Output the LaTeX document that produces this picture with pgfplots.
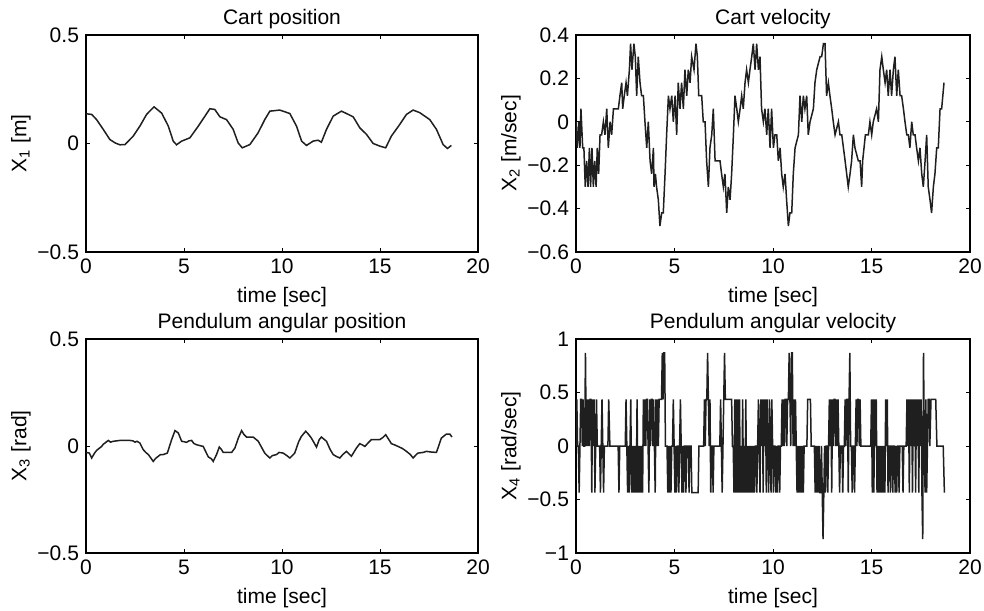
\documentclass[border=0pt]{standalone}
\usepackage{fontspec}
\setmainfont{Liberation Sans}
\usepackage{pgfplots}
\usepackage{pgfplotstable}
\pgfplotsset{compat=1.18}

\pgfplotstableread{
t v
0 0.137
0.29 0.134
0.54 0.11
0.88 0.065
1.22 0.018
1.50 0.002
1.73 -0.006
1.99 -0.005
2.41 0.034
2.75 0.08
3.09 0.134
3.47 0.169
3.86 0.14
4.20 0.08
4.45 0.011
4.62 -0.006
4.88 0.011
5.30 0.026
5.73 0.08
6.07 0.126
6.32 0.16
6.57 0.157
6.83 0.123
7.17 0.11
7.51 0.065
7.76 0.003
7.97 -0.02
8.36 -0.005
8.78 0.049
9.12 0.11
9.38 0.149
9.89 0.154
10.40 0.138
10.74 0.08
11.00 0.011
11.25 -0.009
11.59 0.011
11.84 0.015
12.01 0.006
12.27 0.065
12.61 0.126
13.03 0.149
13.29 0.138
13.63 0.123
13.97 0.072
14.31 0.042
14.65 0.0
14.99 -0.012
15.29 -0.02
15.58 0.034
16.01 0.088
16.35 0.134
16.69 0.154
17.03 0.142
17.54 0.11
17.88 0.065
18.22 -0.005
18.44 -0.023
18.64 -0.009
}\cartpos

\pgfplotstableread{
t v
0.00 0
0.07 -0.12
0.14 0
0.20 -0.12
0.25 0.06
0.34 -0.12
0.40 -0.12
0.47 -0.30
0.54 -0.18
0.61 -0.30
0.68 -0.12
0.74 -0.30
0.81 -0.12
0.88 -0.30
0.95 -0.18
1.02 -0.30
1.08 -0.12
1.15 -0.24
1.22 -0.06
1.30 -0.06
1.39 0
1.47 -0.06
1.56 0.06
1.64 -0.12
1.73 0
1.81 -0.06
1.90 0.06
2.15 0.06
2.23 0.12
2.32 0.18
2.37 0.06
2.45 0.12
2.54 0.18
2.61 0.12
2.71 0.24
2.77 0.36
2.84 0.24
2.94 0.36
3.01 0.30
3.08 0.12
3.16 0.30
3.25 0.18
3.33 0.12
3.42 0.12
3.50 0
3.59 -0.12
3.67 0
3.76 -0.18
3.84 -0.24
3.93 -0.12
3.96 -0.30
4.03 -0.24
4.09 -0.30
4.18 -0.36
4.26 -0.48
4.35 -0.42
4.43 -0.42
4.52 -0.24
4.60 -0.06
4.69 0.12
4.77 0.06
4.86 0.12
4.94 0
5.03 0.12
5.11 -0.06
5.19 0.18
5.28 0.06
5.36 0.18
5.45 0.06
5.53 0.24
5.62 0.12
5.70 0.24
5.79 0.18
5.87 0.30
5.99 0.24
6.09 0.36
6.16 0.30
6.23 0.12
6.38 0.12
6.46 0
6.55 0
6.63 -0.18
6.72 -0.30
6.80 -0.12
6.89 -0.06
6.97 0.06
7.06 -0.18
7.31 -0.18
7.39 -0.24
7.48 -0.30
7.56 -0.24
7.65 -0.42
7.73 -0.30
7.82 -0.36
7.90 -0.24
7.99 -0.06
8.07 0.12
8.16 0.06
8.24 0
8.33 0.06
8.41 0.12
8.49 0.06
8.58 0.18
8.66 0.24
8.75 0.18
8.83 0.24
8.92 0.30
9.00 0.36
9.09 0.24
9.17 0.36
9.26 0.24
9.34 0.30
9.42 0.06
9.51 0
9.59 0.06
9.68 -0.06
9.76 0.06
9.85 -0.12
9.93 0.06
10.02 -0.12
10.10 -0.06
10.19 -0.06
10.27 -0.18
10.36 -0.12
10.44 -0.24
10.52 -0.30
10.61 -0.24
10.69 -0.36
10.78 -0.48
10.86 -0.42
10.95 -0.42
11.03 -0.24
11.12 -0.12
11.29 -0.06
11.37 0.12
11.46 0
11.54 0.12
11.62 0.06
11.71 0.12
11.79 -0.06
11.88 0
12.05 0.06
12.13 0.18
12.22 0.24
12.39 0.30
12.47 0.30
12.56 0.36
12.64 0.36
12.72 0.12
12.81 0.18
12.89 0.12
12.98 0.06
13.06 0
13.15 -0.06
13.32 0
13.40 -0.06
13.49 -0.06
13.66 -0.18
13.74 -0.24
13.82 -0.30
13.91 -0.24
13.99 -0.18
14.08 -0.06
14.16 -0.12
14.33 -0.18
14.42 -0.18
14.50 -0.30
14.55 -0.18
14.69 -0.06
14.84 -0.06
14.92 0
15.01 -0.06
15.09 0
15.26 0.06
15.35 0
15.43 0.24
15.52 0.30
15.60 0.24
15.69 0.18
15.77 0.24
15.85 0.12
15.94 0.24
16.02 0.12
16.11 0.24
16.19 0.30
16.28 0.12
16.36 0.24
16.45 0.12
16.53 0.12
16.62 0.06
16.70 0
16.79 -0.06
16.87 -0.06
16.95 -0.12
17.04 0
17.12 -0.06
17.21 -0.06
17.29 -0.12
17.38 -0.18
17.46 -0.12
17.55 -0.24
17.63 -0.30
17.72 -0.18
17.80 -0.06
17.88 -0.30
17.97 -0.36
18.05 -0.42
18.14 -0.30
18.22 -0.24
18.31 -0.12
18.39 -0.12
18.48 0.06
18.56 0.06
18.68 0.18
}\cartvel

\pgfplotstableread{
t v
0.00 -0.030
0.17 -0.033
0.29 -0.056
0.46 -0.030
0.55 -0.020
0.63 -0.014
0.80 -0.002
0.88 0.008
0.97 0.014
1.05 0.020
1.14 0.026
1.25 0.018
1.39 0.022
1.73 0.026
2.24 0.026
2.40 0.024
2.50 0.018
2.60 0.022
2.75 0.014
2.92 -0.017
3.05 -0.030
3.18 -0.040
3.30 -0.055
3.43 -0.072
3.55 -0.058
3.69 -0.048
3.80 -0.040
3.94 -0.040
4.15 -0.033
4.37 0.030
4.54 0.072
4.71 0.061
4.88 0.022
5.00 0.020
5.13 0.017
5.25 0.024
5.39 0.026
5.50 0.012
5.64 0.006
5.98 -0.002
6.24 -0.051
6.40 -0.060
6.49 -0.072
6.66 -0.040
6.80 -0.005
6.90 -0.015
7.00 -0.030
7.43 -0.030
7.60 -0.009
7.77 0.037
7.94 0.072
8.05 0.055
8.19 0.042
8.53 0.042
8.79 0.022
8.95 -0.005
9.12 -0.033
9.25 -0.045
9.38 -0.056
9.50 -0.045
9.72 -0.040
9.85 -0.030
10.06 -0.033
10.25 -0.045
10.40 -0.056
10.65 -0.033
10.85 0.020
10.99 0.045
11.21 0.069
11.35 0.055
11.50 0.037
11.76 -0.005
11.90 0.030
12.01 0.042
12.27 0.022
12.45 -0.015
12.61 -0.040
12.80 -0.050
12.95 -0.056
13.10 -0.040
13.29 -0.025
13.54 -0.048
13.80 -0.009
13.97 0.011
14.10 0.005
14.23 -0.002
14.40 0.015
14.56 0.030
14.99 0.030
15.15 0.040
15.29 0.053
15.45 0.030
15.58 0.011
15.75 0.005
15.92 -0.002
16.15 -0.012
16.35 -0.025
16.55 -0.040
16.69 -0.056
16.85 -0.040
16.94 -0.033
17.20 -0.030
17.37 -0.025
17.60 -0.028
17.88 -0.030
18.13 0.037
18.39 0.056
18.56 0.056
18.67 0.042
}\pendpos

\pgfplotstableread{
t v
0.00 0
0.04 0.435
0.08 0
0.12 0
0.16 -0.435
0.20 0
0.24 0.435
0.28 0.435
0.32 0
0.36 0.435
0.40 0
0.44 0
0.48 0.87
0.52 0
0.56 0.435
0.60 0
0.64 0.435
0.68 0
0.72 0.435
0.76 0.435
0.80 -0.435
0.84 0.435
0.88 0
0.92 0.435
0.96 -0.435
1.00 0
1.04 0.435
1.08 0
1.20 0
1.24 -0.435
1.28 0
1.32 0.435
1.36 0
1.40 -0.435
1.44 0
1.62 0
1.66 0.435
1.72 0
2.14 0
2.18 -0.435
2.22 0
2.50 0
2.54 0.435
2.58 0
2.62 -0.435
2.66 0
2.70 -0.435
2.74 0
2.78 0.435
2.82 -0.435
2.86 0
2.90 -0.435
2.94 0
2.98 -0.435
3.02 0
3.06 -0.435
3.10 0.435
3.14 -0.435
3.18 0
3.22 -0.435
3.26 0
3.30 -0.435
3.34 0
3.38 -0.435
3.42 0.435
3.46 0
3.50 0.435
3.54 0
3.58 0.435
3.62 0.435
3.66 0
3.70 -0.435
3.74 0.435
3.78 0
3.82 0.435
3.86 0.435
3.90 0
3.94 0.435
3.98 0
4.02 -0.435
4.06 0.435
4.10 0
4.14 0.435
4.18 0
4.22 0.435
4.34 0.435
4.38 0.87
4.42 0.435
4.46 0.87
4.50 0.87
4.54 0
4.62 0
4.66 -0.435
4.70 0
4.74 -0.435
4.78 0
4.82 -0.435
4.86 0
4.90 0
4.94 0.435
4.98 0
5.02 -0.435
5.06 0
5.10 -0.435
5.14 0
5.18 0
5.22 -0.435
5.26 0
5.30 0.435
5.34 0
5.38 -0.435
5.42 0
5.46 -0.435
5.50 0
5.54 0
5.58 -0.435
5.62 0
5.70 0
5.74 -0.435
5.78 0
5.84 0
5.88 -0.435
6.20 -0.435
6.24 0
6.48 0
6.52 0.435
6.56 0
6.60 0.435
6.64 0.435
6.68 0.87
6.72 0.435
6.76 0
6.80 0.435
6.84 -0.435
6.88 0
6.92 0
6.96 -0.435
7.00 0
7.30 0
7.34 0.435
7.38 0
7.42 -0.435
7.46 0
7.50 0.435
7.54 0.87
7.58 0.435
7.90 0.435
7.94 0
7.98 0
8.02 -0.435
8.06 0.435
8.10 -0.435
8.14 0.435
8.18 -0.435
8.22 0.435
8.26 -0.435
8.30 0.435
8.34 -0.435
8.38 0
8.42 -0.435
8.46 0.435
8.50 -0.435
8.54 0
8.58 -0.435
8.62 0.435
8.66 -0.435
8.70 0
8.74 -0.435
8.78 0
8.82 -0.435
8.86 0
8.90 -0.435
8.94 0
8.98 -0.435
9.02 0
9.06 -0.435
9.10 0
9.14 0
9.18 -0.435
9.22 0
9.26 0.435
9.30 0
9.34 -0.435
9.38 0.435
9.42 0
9.46 0.435
9.50 -0.435
9.54 0.435
9.58 0
9.62 0.435
9.66 -0.435
9.70 0.435
9.74 0
9.78 -0.435
9.82 0.435
9.86 0
9.90 -0.435
9.94 0.435
9.98 0
10.02 -0.435
10.06 0
10.10 0
10.14 -0.435
10.18 0
10.22 -0.435
10.26 0
10.30 0
10.34 -0.435
10.38 0
10.42 0
10.46 0.435
10.50 0
10.54 0.435
10.58 0
10.62 0.435
10.66 0.435
10.70 0
10.74 0.435
10.78 0.435
10.82 0.87
10.86 0.435
10.90 0
10.94 0.87
10.98 0.87
11.02 0
11.06 0.435
11.10 0
11.14 0.435
11.18 0
11.22 -0.435
11.26 0
11.30 -0.435
11.34 0
11.38 -0.435
11.42 0
11.46 -0.435
11.50 0
11.54 -0.435
11.58 0
11.72 0
11.76 0.435
11.90 0.435
11.94 0
12.10 0
12.14 -0.435
12.18 0
12.22 -0.435
12.26 0
12.30 -0.435
12.34 0
12.38 -0.435
12.42 -0.435
12.46 0
12.50 -0.435
12.54 -0.87
12.58 -0.435
12.62 0
12.66 -0.435
12.70 0
12.74 0
12.78 -0.435
12.82 0
12.86 0.435
12.90 0
12.94 0.435
12.98 -0.435
13.02 0.435
13.06 0
13.10 0.435
13.14 0.435
13.18 0
13.22 0.435
13.26 0
13.30 0.435
13.34 0
13.38 -0.435
13.42 0
13.50 0
13.54 -0.435
13.58 0
13.62 0
13.66 0.435
13.70 0
13.74 0.435
13.78 0.435
13.82 -0.435
13.86 0.435
13.90 0.87
13.94 0
13.98 0
14.02 -0.435
14.06 0
14.10 0
14.14 -0.435
14.18 0
14.22 0.435
14.26 0
14.30 0.435
14.34 0.435
14.38 0
14.42 0.435
14.46 0
14.96 0
15.00 0.435
15.04 -0.435
15.08 0.435
15.12 -0.435
15.16 0.435
15.20 0
15.24 0.435
15.28 -0.435
15.32 0
15.36 -0.435
15.40 0
15.44 -0.435
15.48 0
15.52 -0.435
15.56 0
15.60 -0.435
15.64 0
15.68 -0.435
15.72 0.435
15.76 0
15.80 0.435
15.84 -0.435
15.88 0
15.92 0
15.96 -0.435
16.00 0
16.04 0
16.08 -0.435
16.12 0
16.16 0
16.20 -0.435
16.24 0
16.28 -0.435
16.32 0
16.36 0
16.40 -0.435
16.44 0
16.56 0
16.60 -0.435
16.64 0
16.76 0
16.80 0.435
16.84 0
16.88 0.435
16.92 -0.435
16.96 0.435
17.00 0
17.04 0.435
17.08 -0.435
17.12 0.435
17.16 0
17.20 0.435
17.24 -0.435
17.28 0.435
17.32 0
17.36 0.435
17.40 -0.435
17.44 0.435
17.48 0
17.52 0.435
17.56 -0.435
17.60 -0.87
17.64 0.87
17.68 0
17.72 -0.435
17.76 0.435
17.80 -0.435
17.84 0
17.88 0.435
17.92 0.435
17.96 0
18.02 0.435
18.26 0.435
18.32 0
18.64 0
18.70 -0.435
}\pendvel

\pgfplotsset{
  matstyle/.style={
    scale only axis,
    width=196pt,
    xmin=0, xmax=20,
    xtick={0,5,10,15,20},
    xticklabels={0,5,10,15,20},
    tick align=inside,
    major tick length=2pt,
    axis line style={line width=0.6pt},
    every tick/.style={black, line width=0.5pt},
    font=\fontsize{10.5}{12}\selectfont,
    xlabel={time [sec]},
    title style={yshift=-6.5pt},
    ylabel shift=-3.5pt,
    clip=true,
  },
  dline/.style={black!88, line width=0.75pt, no marks},
}

\begin{document}
\begin{tikzpicture}
\useasboundingbox (0,0) rectangle (492pt,305pt);

\begin{axis}[matstyle, at={(43pt,179pt)}, anchor=south west,
  height=108.5pt, ymin=-0.5, ymax=0.5,
  ytick={-0.5,0,0.5}, yticklabels={−0.5,0,0.5},
  title={Cart position}, ylabel={X\textsubscript{1} [m]}]
\addplot[dline] table[x=t,y=v]{\cartpos};
\end{axis}

\begin{axis}[matstyle, at={(288pt,179pt)}, anchor=south west, width=197pt,
  height=108.5pt, ymin=-0.6, ymax=0.4,
  ytick={-0.6,-0.4,-0.2,0,0.2,0.4}, yticklabels={−0.6,−0.4,−0.2,0,0.2,0.4},
  title={Cart velocity}, ylabel={X\textsubscript{2} [m/sec]}]
\addplot[dline] table[x=t,y=v]{\cartvel};
\end{axis}

\begin{axis}[matstyle, at={(43pt,28.5pt)}, anchor=south west,
  height=107pt, ymin=-0.5, ymax=0.5,
  ytick={-0.5,0,0.5}, yticklabels={−0.5,0,0.5},
  title={Pendulum angular position}, ylabel={X\textsubscript{3} [rad]}]
\addplot[dline] table[x=t,y=v]{\pendpos};
\end{axis}

\begin{axis}[matstyle, at={(288pt,28.5pt)}, anchor=south west, width=197pt,
  height=107pt, ymin=-1, ymax=1,
  ytick={-1,-0.5,0,0.5,1}, yticklabels={−1,−0.5,0,0.5,1},
  title={Pendulum angular velocity}, ylabel={X\textsubscript{4} [rad/sec]}]
\addplot[dline] table[x=t,y=v]{\pendvel};
\end{axis}
\end{tikzpicture}
\end{document}
